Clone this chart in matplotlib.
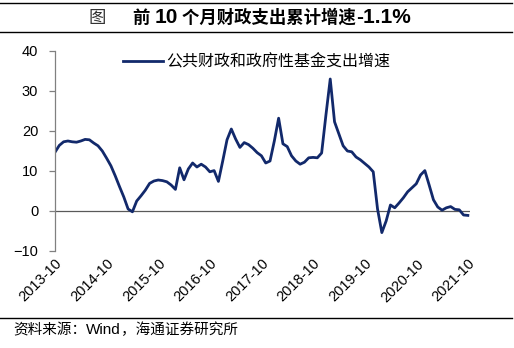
import matplotlib
matplotlib.use("Agg")
import matplotlib.pyplot as plt
from matplotlib.offsetbox import TextArea, HPacker, AnnotationBbox
from matplotlib.lines import Line2D

# 公共财政和政府性基金支出累计增速 (%), monthly 2013-10 .. 2021-10
growth = [14.7, 16.4, 17.3, 17.5, 17.3, 17.2, 17.5, 17.9, 17.8, 17.0,
          16.3, 15.0, 13.2, 11.3, 8.8, 6.1, 3.5, 0.5, -0.2, 2.5,
          3.8, 5.2, 6.9, 7.5, 7.75, 7.6, 7.3, 6.5, 5.4, 10.8,
          7.8, 10.5, 12.0, 11.0, 11.7, 11.0, 9.8, 10.1, 7.4, 12.5,
          17.8, 20.5, 18.0, 15.9, 17.1, 16.6, 15.7, 14.6, 13.8, 12.0,
          12.5, 17.5, 23.2, 16.8, 16.1, 13.8, 12.5, 11.7, 12.2, 13.3,
          13.4, 13.3, 14.5, 24.0, 33.0, 22.3, 19.3, 16.3, 15.0, 14.8,
          13.5, 12.8, 11.9, 11.0, 9.8, 0.5, -5.4, -2.5, 1.5, 0.8,
          2.0, 3.3, 4.8, 5.8, 6.8, 9.0, 10.1, 6.5, 2.8, 1.0,
          0.2, 0.8, 1.1, 0.4, 0.3, -1.0, -1.1]
tick_labels = ["2013-10", "2014-10", "2015-10", "2016-10", "2017-10",
               "2018-10", "2019-10", "2020-10", "2021-10"]
series_name = "公共财政和政府性基金支出增速"

cjk = ["Noto Sans CJK SC", "DejaVu Sans"]
latin = ["Liberation Sans", "Noto Sans CJK SC"]
navy = "#12296b"

W, H = 514, 348
fig = plt.figure(figsize=(W / 100, H / 100), dpi=100)
ax = fig.add_axes([55 / W, 1 - 251 / H, 415 / W, 200 / H])

x = list(range(len(growth)))
line, = ax.plot(x, growth, color=navy, lw=2.0, solid_joinstyle="round")
ax.axhline(0, color="#595959", lw=0.9, zorder=1)

ax.set_xlim(0, 96.5)
ax.set_ylim(-10, 40)
ax.set_yticks([-10, 0, 10, 20, 30, 40])
ax.set_xticks(x[::12])
ax.set_xticklabels(tick_labels, rotation=45, ha="right", rotation_mode="anchor",
                   family=latin, fontsize=10.5)
for t in ax.get_yticklabels():
    t.set_family(latin)
    t.set_fontsize(10.5)

for s in ["top", "right", "bottom"]:
    ax.spines[s].set_visible(False)
ax.spines["left"].set_color("#808080")
ax.spines["left"].set_linewidth(0.9)
ax.tick_params(axis="y", direction="out", length=4, width=0.9, color="#808080", pad=8)
ax.tick_params(axis="x", length=0, pad=4)

ax.legend([line], [series_name], loc="upper left", bbox_to_anchor=(0.13, 1.06),
          frameon=False, handlelength=2.5, handletextpad=0.2,
          prop={"family": cjk, "size": 11.5})

# rules
for yy in (3, 32, 318):
    fig.add_artist(Line2D([0, 512 / W], [1 - yy / H, 1 - yy / H], color="black", lw=1))

# title
bold_cjk = dict(family=cjk, size=12.5, weight="bold", color="black")
bold_lat = dict(family=latin, size=15, weight="bold", color="black")
title_box = HPacker(children=[
    TextArea("图", textprops=dict(family=cjk, size=12.5, color="#333333")),
    TextArea("       ", textprops=bold_cjk),
    TextArea("前 ", textprops=bold_cjk),
    TextArea("10", textprops=bold_lat),
    TextArea(" 个月财政支出累计增速", textprops=bold_cjk),
    TextArea("-1.1%", textprops=bold_lat),
], sep=0, align="baseline")
fig.add_artist(AnnotationBbox(title_box, (88 / W, 1 - 17.5 / H), xycoords="figure fraction",
                              box_alignment=(0, 0.5), frameon=False, pad=0))

# source
src = HPacker(children=[
    TextArea("资料来源：", textprops=dict(family=cjk, size=10.5)),
    TextArea("Wind", textprops=dict(family=latin, size=11)),
    TextArea("，海通证券研究所", textprops=dict(family=cjk, size=10.5)),
], sep=0, align="baseline")
fig.add_artist(AnnotationBbox(src, (13 / W, 1 - 330 / H), xycoords="figure fraction",
                              box_alignment=(0, 0.5), frameon=False, pad=0))

fig.savefig("out.png", dpi=100)
